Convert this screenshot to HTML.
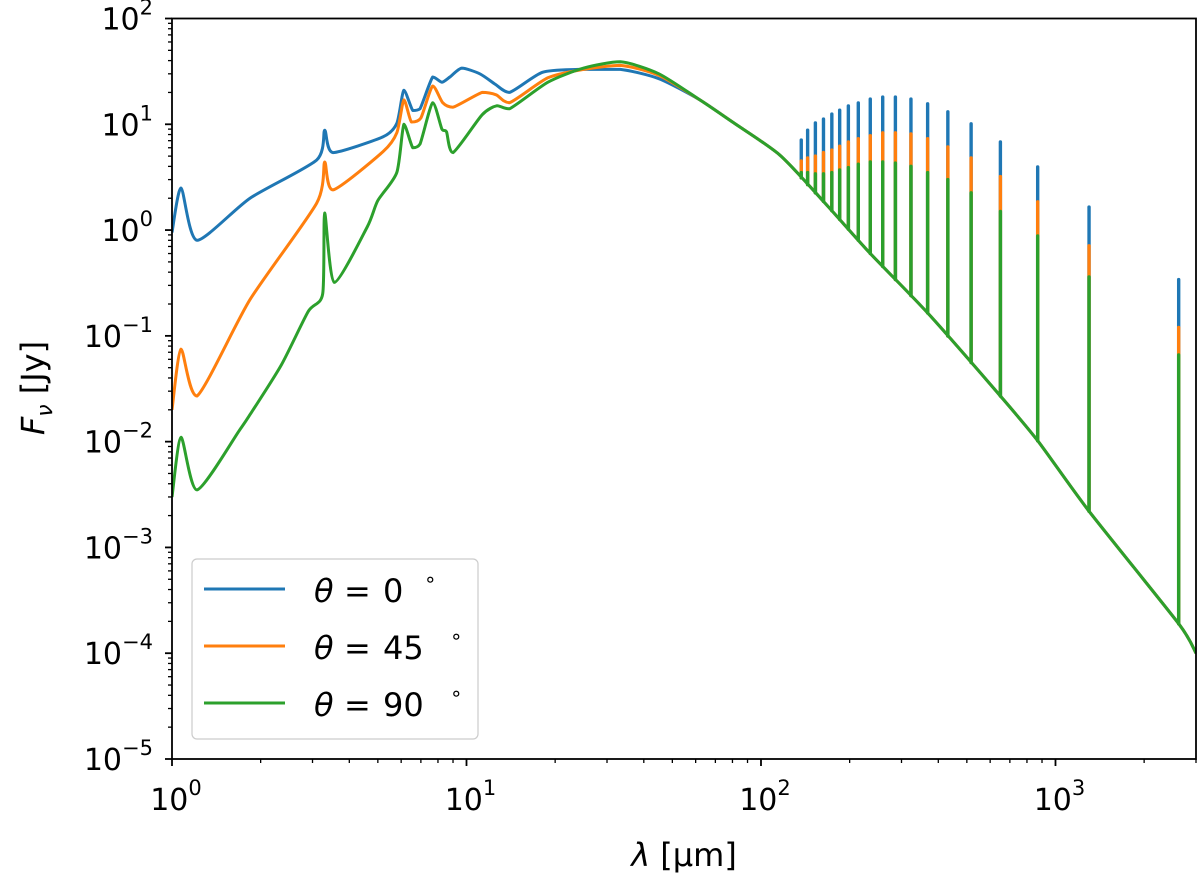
<!DOCTYPE html>
<html><head><meta charset="utf-8"><style>
body{margin:0;background:#fff}
svg text{font-family:"DejaVu Sans","Liberation Sans",sans-serif;fill:#000}
</style></head><body>
<svg id="chart" width="1200" height="880" viewBox="0 0 1200 880" xmlns="http://www.w3.org/2000/svg">
<g id="plot"></g>
<g id="axes"></g>
<g id="legend">
<rect x="192" y="559" width="286" height="180" rx="5" fill="#fff" fill-opacity="0.85" stroke="#ccc" stroke-width="1.2"/>
<g><line x1="204" y1="589" x2="285" y2="589" stroke="#1f77b4" stroke-width="3"/><text x="314" y="602" font-size="32" font-style="italic">θ</text><text x="344" y="602" font-size="32">=</text><text x="383" y="602" font-size="32">0</text><text x="424" y="586" font-size="20">∘</text></g>
<g><line x1="204" y1="646" x2="285" y2="646" stroke="#ff7f0e" stroke-width="3"/><text x="314" y="659" font-size="32" font-style="italic">θ</text><text x="344" y="659" font-size="32">=</text><text x="383" y="659" font-size="32">45</text><text x="450" y="643" font-size="20">∘</text></g>
<g><line x1="204" y1="703" x2="285" y2="703" stroke="#2ca02c" stroke-width="3"/><text x="314" y="716" font-size="32" font-style="italic">θ</text><text x="344" y="716" font-size="32">=</text><text x="383" y="716" font-size="32">90</text><text x="450" y="700" font-size="20">∘</text></g>
</g>
<text x="684" y="866" font-size="32" text-anchor="middle"><tspan font-style="italic">λ</tspan> [μm]</text>
<text transform="translate(44,388) rotate(-90)" font-size="32" text-anchor="middle"><tspan font-style="italic">F</tspan><tspan font-style="italic" font-size="22" dy="8">ν</tspan><tspan dy="-8"> [Jy]</tspan></text>
</svg>
<script>
// continuum data (wavelength um, flux Jy)
const blueLam = [1,1.073,1.216,1.84,3.1,3.3,3.52,5.2,5.8,6.13,6.57,6.95,7.68,8.25,8.78,9.65,11.1,12.5,14.0,18.1,24,33.3,45];
const blueF   = [0.95,2.5,0.8,2.0,4.6,8.8,5.4,7.6,10.2,21,13.5,14,28,25,28,34,30,24,20,31,33,33,27];
const orangeLam = [1,1.073,1.216,1.84,3.1,3.3,3.52,5.2,5.8,6.13,6.5,7.0,7.68,8.3,9.0,11.3,12.6,14.0,18.9,25,33.3,45];
const orangeF   = [0.02,0.075,0.027,0.22,1.8,4.4,2.4,5.5,8.3,17,10.5,11.5,23,16,14.5,20,19,16,27.5,33,36,29];
const greenLam = [1,1.073,1.216,1.7,1.84,2.35,2.9,3.25,3.3,3.56,4.6,5.0,5.8,6.13,6.57,6.95,7.68,8.25,8.55,9.0,11.3,12.7,14.0,18.9,25,33.3,45];
const greenF   = [0.003,0.011,0.0035,0.013,0.018,0.053,0.17,0.25,1.45,0.32,1.07,1.9,3.5,10,6,6.5,16,9,8.5,5.4,12.3,15,14,25,34,39,30];
const tailLam = [62,80,116,165,235,368,650,870,1300,2620,3000];
const tailF   = [17,10.5,5.1,1.8,0.6,0.165,0.027,0.0102,0.0022,0.00019,0.0001];
// emission line spikes
const spikeLam = [137,144,153,163,174,185,198,214,235,259,286,323,368,431,517,650,870,1300,2620];
const blueTop   = [7.1,8.8,10.3,11.2,12.5,13.6,14.9,15.9,17.3,18.1,18.1,17.3,15.6,13.1,10.1,6.8,3.95,1.65,0.34];
const orangeTop = [4.5,4.8,5.0,5.4,5.7,6.2,6.8,7.3,7.8,8.3,8.3,8.1,7.3,6.1,4.8,3.2,1.85,0.71,0.12];
const greenTop  = [3.5,3.5,3.4,3.4,3.5,3.7,3.9,4.2,4.4,4.4,4.3,4.0,3.5,3.0,2.25,1.5,0.88,0.36,0.066];
const xTickLabels = ["0","1","2","3"];
const yTickLabels = ["2","1","0","−1","−2","−3","−4","−5"];

const X0=172, X1=1196, Y0=18.5, Y1=759;
const xMinL=0, xMaxL=Math.log10(3000), yMinL=-5, yMaxL=2;
function xs(l){return X0+(Math.log10(l)-xMinL)/(xMaxL-xMinL)*(X1-X0);}
function ys(f){return Y1-(Math.log10(f)-yMinL)/(yMaxL-yMinL)*(Y1-Y0);}
const NS='http://www.w3.org/2000/svg';
function mk(t,a,p){const e=document.createElementNS(NS,t);for(const k in a)e.setAttribute(k,a[k]);p.appendChild(e);return e;}
const plot=document.getElementById('plot'), axes=document.getElementById('axes');
function interp(lam,L,F){for(let i=0;i<L.length-1;i++){if(lam>=L[i]&&lam<=L[i+1]){const t=(Math.log10(lam)-Math.log10(L[i]))/(Math.log10(L[i+1])-Math.log10(L[i]));return Math.pow(10,Math.log10(F[i])+t*(Math.log10(F[i+1])-Math.log10(F[i])));}}return F[F.length-1];}
const series=[{n:'theta-0',c:'#1f77b4',L:blueLam,F:blueF,T:blueTop},{n:'theta-45',c:'#ff7f0e',L:orangeLam,F:orangeF,T:orangeTop},{n:'theta-90',c:'#2ca02c',L:greenLam,F:greenF,T:greenTop}];
const clip=mk('clipPath',{id:'cp'},plot);mk('rect',{x:X0,y:Y0,width:X1-X0,height:Y1-Y0},clip);
function smoothPath(P){
  let d='M'+P[0][0].toFixed(1)+','+P[0][1].toFixed(1);
  for(let i=0;i<P.length-1;i++){
    const p0=P[Math.max(0,i-1)],p1=P[i],p2=P[i+1],p3=P[Math.min(P.length-1,i+2)];
    const k=0.12;
    let c1y=p1[1]+(p2[1]-p0[1])*k, c2y=p2[1]-(p3[1]-p1[1])*k;
    const lo=Math.min(p1[1],p2[1]),hi=Math.max(p1[1],p2[1]);
    c1y=Math.min(hi,Math.max(lo,c1y));c2y=Math.min(hi,Math.max(lo,c2y));
    const c1x=p1[0]+(p2[0]-p0[0])*k, c2x=p2[0]-(p3[0]-p1[0])*k;
    d+='C'+c1x.toFixed(1)+','+c1y.toFixed(1)+' '+c2x.toFixed(1)+','+c2y.toFixed(1)+' '+p2[0].toFixed(1)+','+p2[1].toFixed(1);
  }
  return d;
}
series.forEach(s=>{
  const L=s.L.concat(tailLam), F=s.F.concat(tailF);
  const g=mk('g',{'clip-path':'url(#cp)'},plot);
  
  
  const P=L.map((l,i)=>[xs(l),ys(F[i])]);
  const p=mk('path',{d:smoothPath(P),fill:'none',stroke:s.c,'stroke-width':3,'stroke-linejoin':'round'},g);
  
  
  spikeLam.forEach((l,i)=>{
    const b=interp(l,tailLam,tailF);
    const ln=mk('line',{x1:xs(l),x2:xs(l),y1:ys(b),y2:ys(s.T[i]),stroke:s.c,'stroke-width':3.4,'stroke-linecap':'round'},g);
    
    
  });
});
const fr=mk('rect',{x:X0,y:Y0,width:X1-X0,height:Y1-Y0,fill:'none',stroke:'#000','stroke-width':1.8},axes);


for(let dec=0;dec<=3;dec++){for(let m=1;m<=9;m++){const v=m*Math.pow(10,dec);if(v>3000)break;const x=xs(v);
  const t=mk('line',{x1:x,x2:x,y1:Y1,y2:Y1+(m==1?7:4),stroke:'#000','stroke-width':m==1?1.8:1.3},axes);
  
  }
  const tx=mk('text',{x:xs(Math.pow(10,dec))+4,y:810,'font-size':30,'text-anchor':'middle'},axes);
  
  
  tx.innerHTML='10<tspan dy="-15" font-size="21">'+xTickLabels[dec]+'</tspan>';}
for(let dec=-5;dec<=2;dec++){for(let m=1;m<=9;m++){const v=m*Math.pow(10,dec);if(Math.log10(v)>2.0001)break;const y=ys(v);
  const t=mk('line',{x1:X0-(m==1?7:4),x2:X0,y1:y,y2:y,stroke:'#000','stroke-width':m==1?1.8:1.3},axes);
  
  }
  const tx=mk('text',{x:153,y:ys(Math.pow(10,dec))+11,'font-size':30,'text-anchor':'end'},axes);
  
  
  tx.innerHTML='10<tspan dy="-15" font-size="21">'+yTickLabels[2-dec]+'</tspan>';}
</script>
</body></html>
